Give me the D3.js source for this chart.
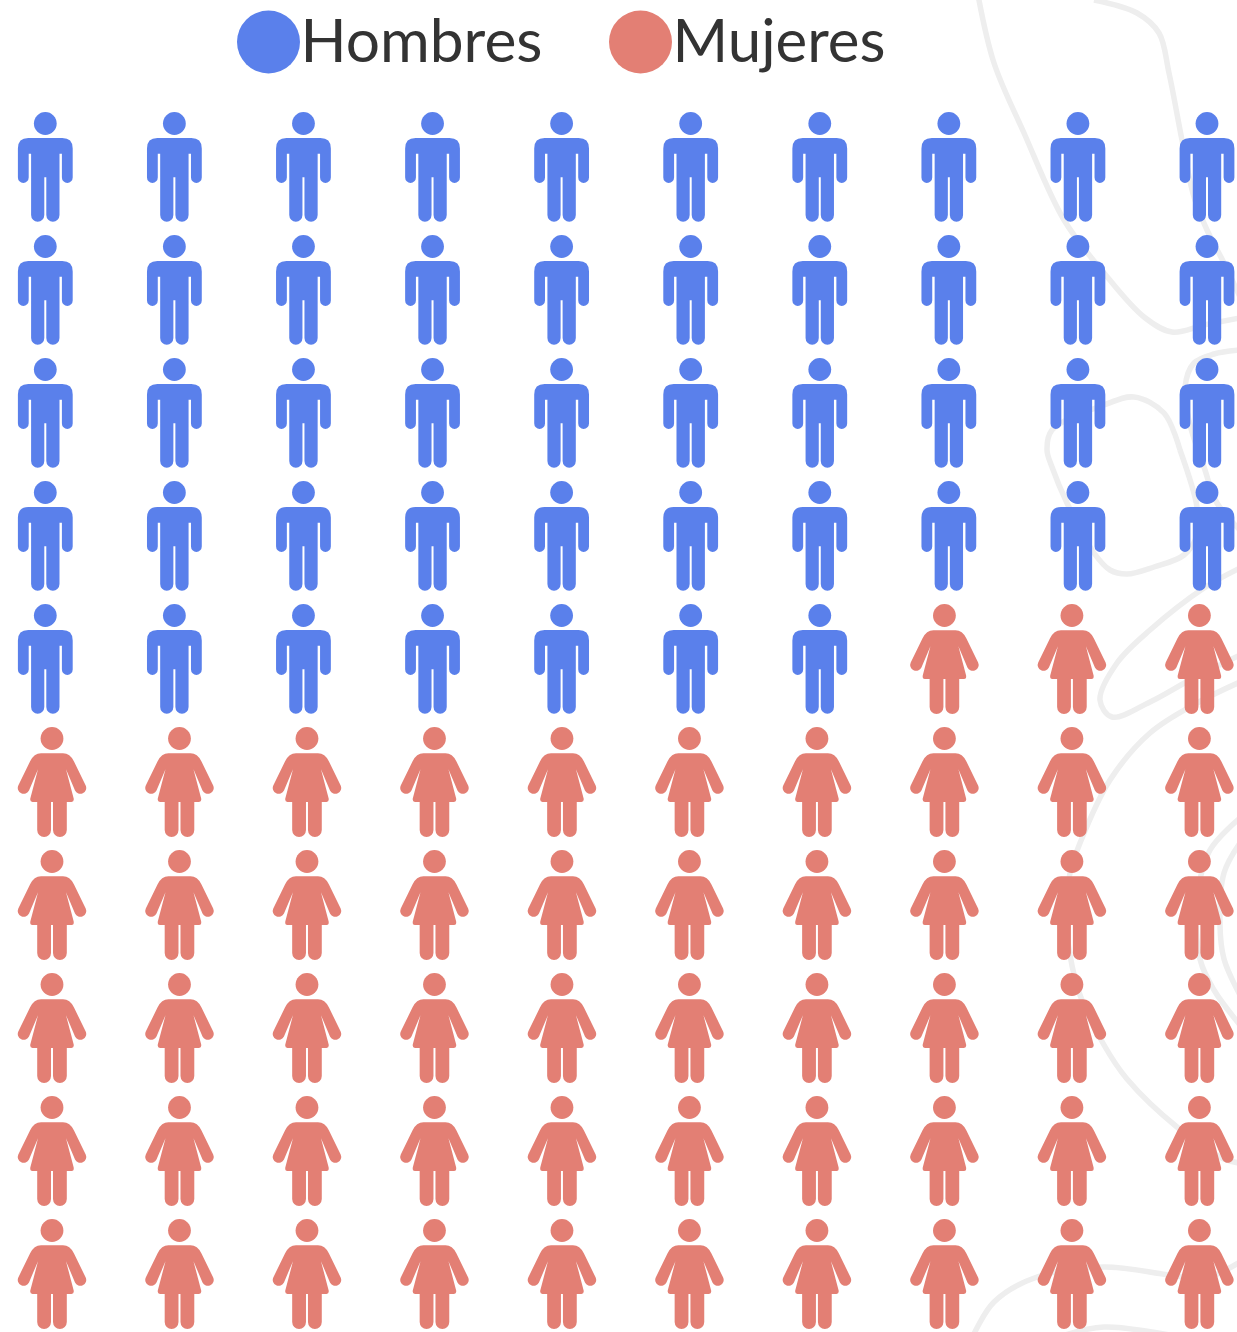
<!DOCTYPE html>
<html><head><meta charset="utf-8">
<script src="https://cdn.jsdelivr.net/npm/d3@7/dist/d3.min.js"></script>
<style>html,body{margin:0;padding:0;background:#fff;overflow:hidden}svg{display:block}</style>
</head><body><svg id="c" width="1237" height="1332"></svg>
<script>
const categories = ["Hombres", "Mujeres"];
const counts = [47, 53];
const colours = ["#5a80eb", "#e37f74"];
const columns = d3.range(10);
const rows = d3.range(10);
const bgCurves = [
 [[978,-5],[994,63],[1024,133],[1064,220],[1104,273],[1144,317],[1172,332],[1204,325],[1240,318]],
 [[1094,0],[1137,13],[1159,33],[1169,73],[1182,140],[1194,197],[1207,230],[1224,263],[1240,297]],
 [[1240,350],[1214,354],[1194,363],[1185,387],[1190,425],[1204,467],[1217,503],[1240,530]],
 [[1180,450],[1164,413],[1134,397],[1104,405],[1052,430],[1047,450],[1052,467],[1067,503],[1094,553],[1110,570],[1127,574],[1154,567],[1184,555],[1197,535],[1197,507],[1180,450]],
 [[1240,568],[1204,588],[1150,630],[1117,663],[1100,700],[1112,717],[1150,702],[1190,680],[1240,655]],
 [[1240,682],[1197,703],[1150,733],[1110,780],[1080,843],[1070,873],[1066,915],[1070,955],[1080,995],[1104,1045],[1127,1079],[1177,1127],[1224,1159],[1240,1163]],
 [[1240,818],[1210,850],[1197,900],[1200,959],[1214,990],[1240,1025]],
 [[1240,843],[1224,873],[1220,925],[1224,959],[1240,995]],
 [[972,1338],[994,1302],[1037,1277],[1104,1267],[1170,1275],[1205,1278],[1240,1262]],
 [[1062,1336],[1104,1327],[1175,1336]]
];
const iconMan = "M-17,14.6H17Q27.4,14.6 27.4,25V54A5.4,5.4 0 0 1 16.6,54V30.3H14.2V91.6A6.6,6.6 0 0 1 1,91.6V53.7H-1V91.6A6.6,6.6 0 0 1 -14.2,91.6V30.3H-16.6V54A5.4,5.4 0 0 1 -27.4,54V25Q-27.4,14.6 -17,14.6Z";
const iconWoman = "M-11,14.8H11Q18,14.8 22,23L33.7,47A5.8,5.8 0 0 1 23,51.9L14,30.7L21.7,60Q22.2,63.5 19.5,63.5H14.8V91.6A6.9,6.9 0 0 1 1,91.6V63.5H-1V91.6A6.9,6.9 0 0 1 -14.8,91.6V63.5H-19.5Q-22.2,63.5 -21.7,60L-14,30.7L-23,51.9A5.8,5.8 0 0 1 -33.7,47L-22,23Q-18,14.8 -11,14.8Z";

const svg = d3.select("#c");
const line = d3.line().curve(d3.curveCatmullRom.alpha(0.5));
svg.append("g").selectAll("path").data(bgCurves).join("path")
  .attr("d", line).attr("fill","none").attr("stroke","#eeeeee").attr("stroke-width",5.5);

const people = d3.merge(categories.map((c,i)=>d3.range(counts[i]).map(()=>i)));
const xMan = d3.scalePoint().domain(columns).range([45.3,1207]);
const xWoman = d3.scalePoint().domain(columns).range([52,1199.4]);
const y = d3.scalePoint().domain(rows).range([123.5,1230.5]);
const icons = [iconMan, iconWoman];
const g = svg.append("g").selectAll("g").data(people).join("g")
  .attr("fill", d=>colours[d])
  .attr("transform",(d,i)=>`translate(${(d===0?xMan:xWoman)(i%10)},${y(Math.floor(i/10))})`);
g.append("circle").attr("r",11.4);
g.append("path").attr("d",d=>icons[d]);

const lx = d3.scaleOrdinal().domain(categories).range([268.5,640.5]);
const leg = svg.append("g").selectAll("g").data(categories).join("g")
  .attr("transform",d=>`translate(${lx(d)},42)`);
leg.append("circle").attr("r",31.5).attr("fill",(d,i)=>colours[i]);
leg.append("text").text(d=>d).attr("x",32).attr("y",20)
  .attr("font-family","Lato, sans-serif").attr("font-size",60).attr("fill","#333")
  .attr("textLength",(d,i)=>[242,213][i]).attr("lengthAdjust","spacingAndGlyphs");
</script></body></html>
